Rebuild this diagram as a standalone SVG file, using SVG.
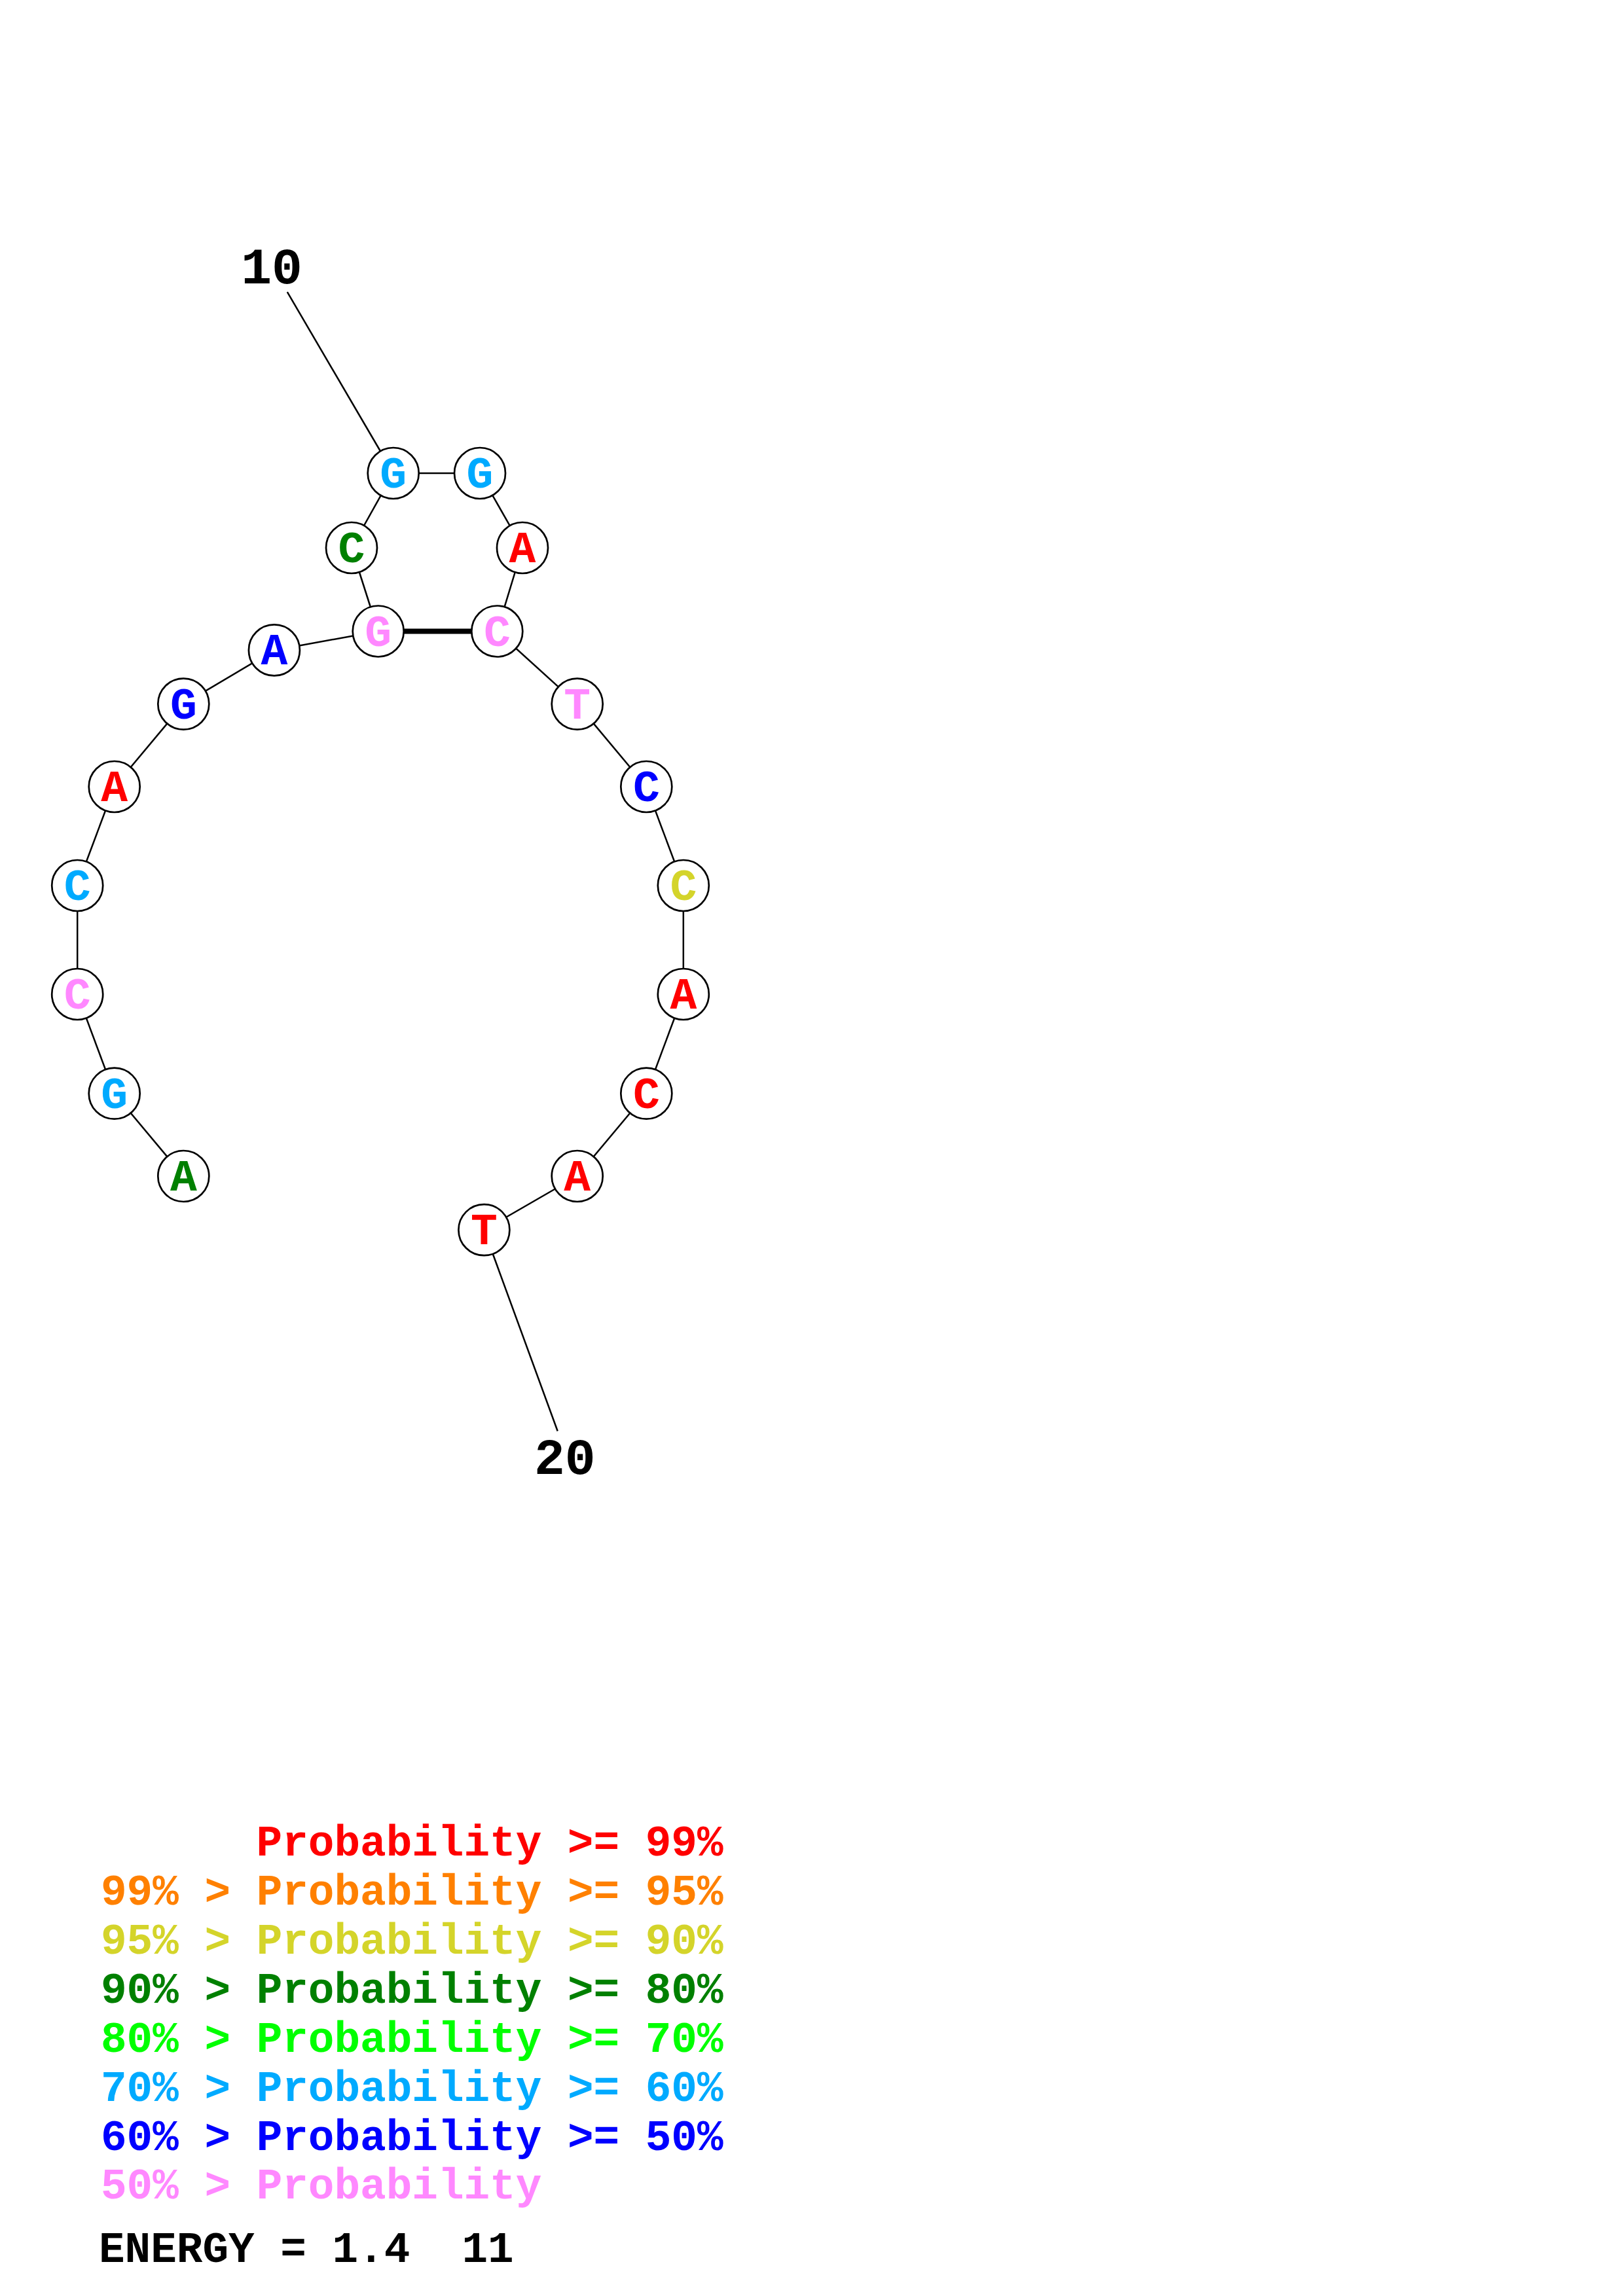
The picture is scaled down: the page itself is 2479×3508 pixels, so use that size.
<svg xmlns="http://www.w3.org/2000/svg" width="2479" height="3508" viewBox="0 0 2479 3508">
<style>
.bg{fill:#ffffff}
.ln{stroke:#000;stroke-width:2.5;fill:none}
.bond{stroke:#000;stroke-width:8;fill:none}
.nd{fill:#fff;stroke:#000;stroke-width:2.7}
.nt{font-family:"Liberation Mono","DejaVu Sans Mono",monospace;font-weight:bold;font-size:68px;text-anchor:middle}
.lab{font-family:"Liberation Mono","DejaVu Sans Mono",monospace;font-weight:bold;font-size:78px;text-anchor:middle;fill:#000}
.lg{font-family:"Liberation Mono","DejaVu Sans Mono",monospace;font-weight:bold;font-size:66px}
.red{fill:#ff0000}.ora{fill:#ff8000}.yel{fill:#d4d42a}.dgr{fill:#008000}.lim{fill:#00ff00}.cya{fill:#00aaff}.blu{fill:#0000ff}.pnk{fill:#ff88ff}.blk{fill:#000}
</style>
<rect class="bg" x="0" y="0" width="2479" height="3508"/>
<g id="connectors">
<line class="ln" x1="280.3" y1="1797" x2="174.7" y2="1670.7"/>
<line class="ln" x1="174.7" y1="1670.7" x2="118.2" y2="1519"/>
<line class="ln" x1="118.2" y1="1519" x2="118.2" y2="1353"/>
<line class="ln" x1="118.2" y1="1353" x2="174.7" y2="1202"/>
<line class="ln" x1="174.7" y1="1202" x2="280.3" y2="1075.6"/>
<line class="ln" x1="280.3" y1="1075.6" x2="418.9" y2="993.4"/>
<line class="ln" x1="418.9" y1="993.4" x2="577.7" y2="964.5"/>
<line class="ln" x1="577.7" y1="964.5" x2="537" y2="837"/>
<line class="ln" x1="537" y1="837" x2="600.7" y2="723"/>
<line class="ln" x1="600.7" y1="723" x2="733" y2="723"/>
<line class="ln" x1="733" y1="723" x2="798" y2="837"/>
<line class="ln" x1="798" y1="837" x2="759.3" y2="964.5"/>
<line class="ln" x1="759.3" y1="964.5" x2="881.7" y2="1075.6"/>
<line class="ln" x1="881.7" y1="1075.6" x2="987.3" y2="1202"/>
<line class="ln" x1="987.3" y1="1202" x2="1043.8" y2="1353"/>
<line class="ln" x1="1043.8" y1="1353" x2="1043.8" y2="1519"/>
<line class="ln" x1="1043.8" y1="1519" x2="987.3" y2="1670.7"/>
<line class="ln" x1="987.3" y1="1670.7" x2="881.7" y2="1797"/>
<line class="ln" x1="881.7" y1="1797" x2="739.4" y2="1879.2"/>
<line class="bond" x1="577.7" y1="964.5" x2="759.3" y2="964.5"/>
<line class="ln" x1="438.8" y1="446.2" x2="600.7" y2="723"/>
<line class="ln" x1="739.4" y1="1879.2" x2="851.7" y2="2186.5"/>
</g>
<g id="n1"><circle class="nd" cx="280.3" cy="1797" r="39"/><text class="nt dgr" x="280.3" y="1819">A</text></g>
<g id="n2"><circle class="nd" cx="174.7" cy="1670.7" r="39"/><text class="nt cya" x="174.7" y="1692.7">G</text></g>
<g id="n3"><circle class="nd" cx="118.2" cy="1519" r="39"/><text class="nt pnk" x="118.2" y="1541">C</text></g>
<g id="n4"><circle class="nd" cx="118.2" cy="1353" r="39"/><text class="nt cya" x="118.2" y="1375">C</text></g>
<g id="n5"><circle class="nd" cx="174.7" cy="1202" r="39"/><text class="nt red" x="174.7" y="1224">A</text></g>
<g id="n6"><circle class="nd" cx="280.3" cy="1075.6" r="39"/><text class="nt blu" x="280.3" y="1097.6">G</text></g>
<g id="n7"><circle class="nd" cx="418.9" cy="993.4" r="39"/><text class="nt blu" x="418.9" y="1015.4">A</text></g>
<g id="n8"><circle class="nd" cx="577.7" cy="964.5" r="39"/><text class="nt pnk" x="577.7" y="986.5">G</text></g>
<g id="n9"><circle class="nd" cx="537" cy="837" r="39"/><text class="nt dgr" x="537" y="859">C</text></g>
<g id="n10"><circle class="nd" cx="600.7" cy="723" r="39"/><text class="nt cya" x="600.7" y="745">G</text></g>
<g id="n11"><circle class="nd" cx="733" cy="723" r="39"/><text class="nt cya" x="733" y="745">G</text></g>
<g id="n12"><circle class="nd" cx="798" cy="837" r="39"/><text class="nt red" x="798" y="859">A</text></g>
<g id="n13"><circle class="nd" cx="759.3" cy="964.5" r="39"/><text class="nt pnk" x="759.3" y="986.5">C</text></g>
<g id="n14"><circle class="nd" cx="881.7" cy="1075.6" r="39"/><text class="nt pnk" x="881.7" y="1097.6">T</text></g>
<g id="n15"><circle class="nd" cx="987.3" cy="1202" r="39"/><text class="nt blu" x="987.3" y="1224">C</text></g>
<g id="n16"><circle class="nd" cx="1043.8" cy="1353" r="39"/><text class="nt yel" x="1043.8" y="1375">C</text></g>
<g id="n17"><circle class="nd" cx="1043.8" cy="1519" r="39"/><text class="nt red" x="1043.8" y="1541">A</text></g>
<g id="n18"><circle class="nd" cx="987.3" cy="1670.7" r="39"/><text class="nt red" x="987.3" y="1692.7">C</text></g>
<g id="n19"><circle class="nd" cx="881.7" cy="1797" r="39"/><text class="nt red" x="881.7" y="1819">A</text></g>
<g id="n20"><circle class="nd" cx="739.4" cy="1879.2" r="39"/><text class="nt red" x="739.4" y="1901.2">T</text></g>
<g id="labels">
<text class="lab" x="415" y="433">10</text>
<text class="lab" x="862.7" y="2252">20</text>
</g>
<g id="legend">
<text class="lg red" x="391.6" y="2835">Probability &gt;= 99%</text>
<text class="lg ora" x="154" y="2910">99% &gt; Probability &gt;= 95%</text>
<text class="lg yel" x="154" y="2985">95% &gt; Probability &gt;= 90%</text>
<text class="lg dgr" x="154" y="3060">90% &gt; Probability &gt;= 80%</text>
<text class="lg lim" x="154" y="3135">80% &gt; Probability &gt;= 70%</text>
<text class="lg cya" x="154" y="3210">70% &gt; Probability &gt;= 60%</text>
<text class="lg blu" x="154" y="3285">60% &gt; Probability &gt;= 50%</text>
<text class="lg pnk" x="154" y="3359">50% &gt; Probability</text>
<text class="lg blk" x="151" y="3456" xml:space="preserve">ENERGY = 1.4  11</text>
</g>
</svg>
